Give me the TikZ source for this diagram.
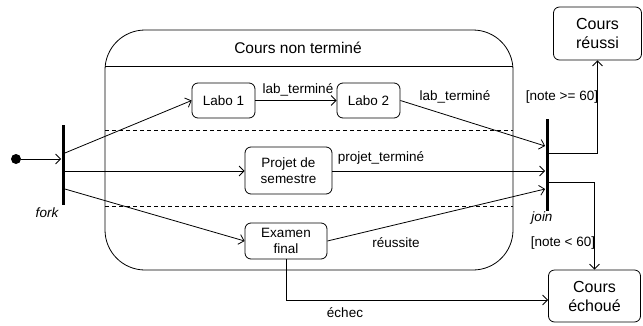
\documentclass[tikz,border=0pt]{standalone}
\usepackage{fontspec}
\setmainfont{Liberation Sans}
\usepackage{tikz}
\usetikzlibrary{arrows.meta, positioning, calc}

\begin{document}
\begin{tikzpicture}[x=1pt, y=-1pt, >={Straight Barb[length=5pt, width=10pt]},
line width=0.8pt, font=\fontsize{13.5}{16.5}\selectfont,
state/.style={draw, rounded corners=6pt, align=center, inner sep=2pt},
final/.style={state, font=\fontsize{16}{19}\selectfont},
bar/.style={fill=black, inner sep=0pt, minimum width=3pt},
lbl/.style={inner sep=1pt}
]
    \useasboundingbox (0, 0) rectangle (643, 325);

    % Composite state
    \node (nonterm) at (309, 150) [draw, rounded corners=40pt, minimum width=408pt, minimum height=240pt] {};
    \node (title) at (298, 48) [font=\fontsize{15.5}{17}\selectfont] {Cours non terminé};
    \draw (105, 66) -- (513, 66);
    \draw [dashed, dash pattern=on 4pt off 3pt] (105, 130) -- (513, 130);
    \draw [dashed, dash pattern=on 4pt off 3pt] (105, 206) -- (513, 206);

    % Initial state, fork and join
    \node (init) at (16, 159) [circle, fill=black, inner sep=0pt, minimum size=10pt] {};
    \node (fork) at (63, 165) [bar, minimum height=80pt] {};
    \node (join) at (547, 165) [bar, minimum height=92pt] {};
    \node (fork_anno) at (47, 213) {\itshape fork};
    \node (join_anno) at (542, 218) {\itshape join};

    % Substates
    \node (labo1) at (223.5, 100.5) [state, minimum width=63pt, minimum height=35pt] {Labo 1};
    \node (labo2) at (368.5, 100.5) [state, minimum width=63pt, minimum height=35pt] {Labo 2};
    \node (projet) at (288.5, 170.5) [state, minimum width=87pt, minimum height=47pt] {Projet de\\semestre};
    \node (examen) at (286, 241) [state, minimum width=82pt, minimum height=36pt] {Examen\\final};

    % Final states
    \node (reussi) at (597.5, 33.5) [final, minimum width=88pt, minimum height=53pt] {Cours\\réussi};
    \node (echoue) at (594.5, 296) [final, minimum width=92pt, minimum height=52pt] {Cours\\échoué};

    % Transitions
    \draw [->] (init) -- ([yshift=6pt]fork.west);
    \draw [->] ([yshift=12pt]fork.east) -- (labo1.west);
    \draw [->] ([yshift=-6pt]fork.east) -- (projet.west |- 0, 171);
    \draw [->] ([yshift=-24pt]fork.east) -- (examen.west);
    \draw [->] (labo1.east) -- (labo2.west);
    \draw [->] (labo2.east) -- ([yshift=19pt]join.west);
    \draw [->] (projet.east |- 0, 171) -- ([yshift=-6pt]join.west);
    \draw [->] (examen.east) -- ([yshift=-24pt]join.west);
    \draw [->] ([yshift=12pt]join.east) -| (reussi.south);
    \draw [->] ([yshift=-17pt]join.east) -| (echoue.north);
    \draw [->] (examen.south) |- (echoue.west |- 0, 300);

    % Guards and events
    \node (lab1_lbl) at (298, 90) [lbl] {lab\_terminé};
    \node (lab2_lbl) at (455, 97) [lbl] {lab\_terminé};
    \node (projet_lbl) at (381, 158) [lbl] {projet\_terminé};
    \node (reussite_lbl) at (396, 243) [lbl] {réussite};
    \node (echec_lbl) at (345, 313) [lbl] {échec};
    \node (ok_lbl) at (562, 97) [lbl] {[note >= 60]};
    \node (ko_lbl) at (563, 243) [lbl] {[note < 60]};
\end{tikzpicture}
\end{document}
